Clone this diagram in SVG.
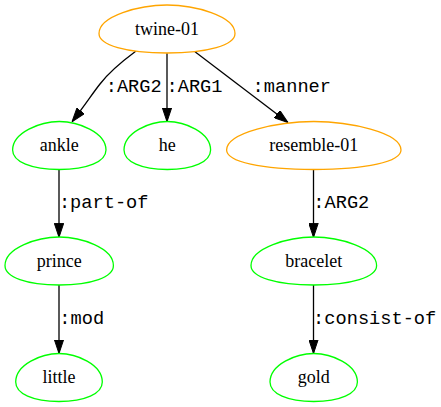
<svg xmlns="http://www.w3.org/2000/svg" width="441" height="407" viewBox="0 0 441 407">
<defs>
<style>
.eo{fill:#ffffff;stroke:#ffa500;stroke-width:1.3}
.eg{fill:#ffffff;stroke:#00ff00;stroke-width:1.3}
.nl{font-family:"Liberation Serif","Times New Roman",serif;font-size:18px;text-anchor:middle;fill:#000}
.el{font-family:"Liberation Mono","Courier New",monospace;font-size:18.67px;text-anchor:middle;fill:#000}
.edge{fill:none;stroke:#000;stroke-width:1.3;marker-end:url(#arr)}
</style>
<marker id="arr" viewBox="0 0 14 10" refX="14" refY="5" markerWidth="14" markerHeight="10" orient="auto" markerUnits="userSpaceOnUse">
<path d="M0,0.3 L14,5 L0,9.7 Z" fill="#000" stroke="#000" stroke-width="1"/>
</marker>
</defs>
<rect width="441" height="407" fill="#ffffff"/>
<g id="edges">
<path class="edge" d="M135.7,51.3 C124,60 110,71 100,84 C92,94 86,104 72,121.8"/>
<path class="edge" d="M167,53.3 L167,121.7"/>
<path class="edge" d="M195,51.7 L288,122.5"/>
<path class="edge" d="M59,169 L59,237.3"/>
<path class="edge" d="M59,285 L59,353.5"/>
<path class="edge" d="M313.5,169 L313.5,237.3"/>
<path class="edge" d="M313.5,285 L313.5,353.5"/>
<text class="el" x="133.7" y="91.7">:ARG2</text>
<text class="el" x="194.5" y="91.7">:ARG1</text>
<text class="el" x="291.8" y="91.7">:manner</text>
<text class="el" x="103.7" y="207.5">:part-of</text>
<text class="el" x="341.3" y="207.5">:ARG2</text>
<text class="el" x="81.7" y="323.5">:mod</text>
<text class="el" x="374.7" y="323.5">:consist-of</text>
</g>
<g id="twine-01" transform="translate(167,29)">
<path class="eo" d="M-68,4.56 C-68,-13.2 -27.2,-24 0,-24 C27.2,-24 68,-13.2 68,4.56 C68,16.32 40.8,24 0,24 C-40.8,24 -68,16.32 -68,4.56Z"/>
<text class="nl" x="0" y="5.5">twine-01</text>
</g>
<g id="ankle" transform="translate(59.3,145.5)">
<path class="eg" d="M-46.7,4.56 C-46.7,-13.2 -18.68,-24 0,-24 C18.68,-24 46.7,-13.2 46.7,4.56 C46.7,16.32 28.02,24 0,24 C-28.02,24 -46.7,16.32 -46.7,4.56Z"/>
<text class="nl" x="0" y="5.5">ankle</text>
</g>
<g id="he" transform="translate(167.3,145.5)">
<path class="eg" d="M-43.3,4.56 C-43.3,-13.2 -17.32,-24 0,-24 C17.32,-24 43.3,-13.2 43.3,4.56 C43.3,16.32 25.98,24 0,24 C-25.98,24 -43.3,16.32 -43.3,4.56Z"/>
<text class="nl" x="0" y="5.5">he</text>
</g>
<g id="resemble-01" transform="translate(313.8,145.5)">
<path class="eo" d="M-87.2,4.56 C-87.2,-13.2 -34.88,-24 0,-24 C34.88,-24 87.2,-13.2 87.2,4.56 C87.2,16.32 52.32,24 0,24 C-52.32,24 -87.2,16.32 -87.2,4.56Z"/>
<text class="nl" x="0" y="5.5">resemble-01</text>
</g>
<g id="prince" transform="translate(59.2,261)">
<path class="eg" d="M-54.2,4.56 C-54.2,-13.2 -21.68,-24 0,-24 C21.68,-24 54.2,-13.2 54.2,4.56 C54.2,16.32 32.52,24 0,24 C-32.52,24 -54.2,16.32 -54.2,4.56Z"/>
<text class="nl" x="0" y="5.5">prince</text>
</g>
<g id="bracelet" transform="translate(313.8,261)">
<path class="eg" d="M-62.8,4.56 C-62.8,-13.2 -25.12,-24 0,-24 C25.12,-24 62.8,-13.2 62.8,4.56 C62.8,16.32 37.68,24 0,24 C-37.68,24 -62.8,16.32 -62.8,4.56Z"/>
<text class="nl" x="0" y="5.5">bracelet</text>
</g>
<g id="little" transform="translate(59,377.5)">
<path class="eg" d="M-43.3,4.56 C-43.3,-13.2 -17.32,-24 0,-24 C17.32,-24 43.3,-13.2 43.3,4.56 C43.3,16.32 25.98,24 0,24 C-25.98,24 -43.3,16.32 -43.3,4.56Z"/>
<text class="nl" x="0" y="5.5">little</text>
</g>
<g id="gold" transform="translate(313.7,377.5)">
<path class="eg" d="M-43.7,4.56 C-43.7,-13.2 -17.48,-24 0,-24 C17.48,-24 43.7,-13.2 43.7,4.56 C43.7,16.32 26.22,24 0,24 C-26.22,24 -43.7,16.32 -43.7,4.56Z"/>
<text class="nl" x="0" y="5.5">gold</text>
</g>
</svg>
